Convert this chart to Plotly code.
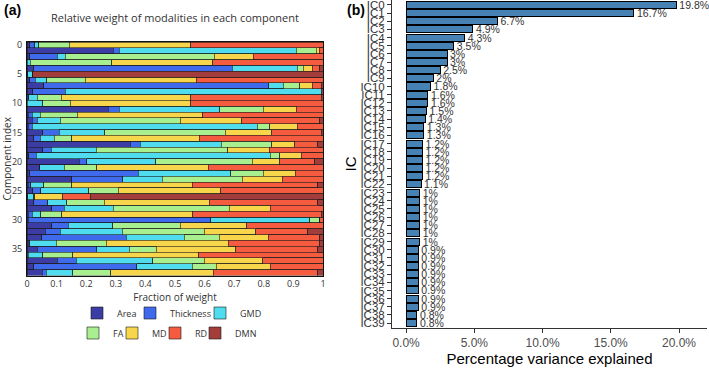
import plotly.graph_objects as go

# ---------------- data: panel (a) ----------------
components = list(range(40))
modalities = ["Area", "Thickness", "GMD", "FA", "MD", "RD", "DMN"]
area = [0.010, 0.292, 0.010, 0.000, 0.022, 0.000, 0.010, 0.056, 0.020, 0.000,
        0.000, 0.275, 0.005, 0.017, 0.005, 0.054, 0.022, 0.348, 0.054, 0.006,
        0.176, 0.043, 0.010, 0.152, 0.005, 0.020, 0.000, 0.022, 0.084, 0.005,
        0.005, 0.084, 0.062, 0.050, 0.004, 0.034, 0.000, 0.103, 0.022, 0.051]
thickness = [0.016, 0.020, 0.093, 0.000, 0.671, 0.003, 0.018, 0.760, 0.110, 0.006,
             0.000, 0.037, 0.012, 0.017, 0.012, 0.055, 0.023, 0.034, 0.028, 0.025,
             0.026, 0.000, 0.366, 0.172, 0.008, 0.027, 0.003, 0.048, 0.042, 0.012,
             0.616, 0.056, 0.050, 0.285, 0.005, 0.202, 0.005, 0.063, 0.349, 0.014]
gmd = [0.013, 0.598, 0.026, 0.011, 0.220, 0.016, 0.039, 0.049, 0.864, 0.028,
       0.054, 0.340, 0.028, 0.078, 0.761, 0.153, 0.047, 0.275, 0.152, 0.791,
       0.233, 0.083, 0.313, 0.133, 0.043, 0.161, 0.019, 0.065, 0.166, 0.030,
       0.334, 0.149, 0.210, 0.196, 0.090, 0.110, 0.049, 0.259, 0.187, 0.089]
fa = [0.104, 0.068, 0.504, 0.276, 0.020, 0.000, 0.130, 0.056, 0.000, 0.082,
      0.092, 0.146, 0.124, 0.405, 0.042, 0.407, 0.060, 0.169, 0.444, 0.032,
      0.326, 0.110, 0.109, 0.271, 0.096, 0.101, 0.005, 0.126, 0.391, 0.071,
      0.034, 0.228, 0.276, 0.118, 0.168, 0.090, 0.101, 0.173, 0.082, 0.129]
md = [0.410, 0.009, 0.131, 0.340, 0.030, 0.000, 0.374, 0.042, 0.000, 0.437,
      0.407, 0.112, 0.424, 0.208, 0.093, 0.157, 0.430, 0.078, 0.140, 0.073,
      0.093, 0.376, 0.109, 0.135, 0.406, 0.345, 0.094, 0.354, 0.139, 0.442,
      0.000, 0.225, 0.175, 0.166, 0.413, 0.270, 0.426, 0.198, 0.182, 0.346]
rd = [0.447, 0.013, 0.236, 0.373, 0.026, 0.000, 0.429, 0.031, 0.000, 0.441,
      0.447, 0.090, 0.407, 0.264, 0.087, 0.168, 0.418, 0.079, 0.182, 0.073,
      0.118, 0.388, 0.093, 0.137, 0.425, 0.346, 0.092, 0.368, 0.178, 0.434,
      0.011, 0.258, 0.176, 0.174, 0.309, 0.277, 0.419, 0.204, 0.178, 0.354]
dmn = [0.000, 0.000, 0.000, 0.000, 0.011, 0.981, 0.000, 0.006, 0.006, 0.006,
       0.000, 0.000, 0.000, 0.011, 0.000, 0.006, 0.000, 0.017, 0.000, 0.000,
       0.028, 0.000, 0.000, 0.000, 0.017, 0.000, 0.787, 0.017, 0.000, 0.006,
       0.000, 0.000, 0.051, 0.011, 0.011, 0.017, 0.000, 0.000, 0.000, 0.017]
weights = [area, thickness, gmd, fa, md, rd, dmn]
y_ticks_a = [0, 5, 10, 15, 20, 25, 30, 35]
x_ticks_a = [0, 0.1, 0.2, 0.3, 0.4, 0.5, 0.6, 0.7, 0.8, 0.9, 1]
x_ticktext_a = ["0", "0.1", "0.2", "0.3", "0.4", "0.5", "0.6", "0.7", "0.8", "0.9", "1"]

# ---------------- data: panel (b) ----------------
ic_labels = ["IC%d" % i for i in range(40)]
variance = [19.8, 16.7, 6.7, 4.9, 4.3, 3.5, 3, 3, 2.5, 2,
            1.8, 1.6, 1.6, 1.5, 1.4, 1.3, 1.3, 1.2, 1.2, 1.2,
            1.2, 1.2, 1.1, 1, 1, 1, 1, 1, 1, 1,
            0.9, 0.9, 0.9, 0.9, 0.9, 0.9, 0.9, 0.9, 0.8, 0.8]
x_ticks_b = [0, 5, 10, 15, 20]
x_ticktext_b = ["0.0%", "5.0%", "10.0%", "15.0%", "20.0%"]

# ---------------- styles ----------------
colors = ["#3C3DA4", "#3F6AEB", "#4EDCEE", "#A8EF90", "#F8D64B", "#F45B3F", "#A23D3B"]
# legend swatch centres (px) for each modality: (x, y)
legend_pos = [(98, 313), (151, 313), (221, 313), (94, 333), (133, 333), (176, 333), (216, 333)]
W, H = 709, 369
FA_FONT = "Open Sans"
FB_FONT = "Liberation Sans, Arial"

legend_names = ["legend"] + ["legend%d" % k for k in range(2, 8)]

fig = go.Figure()
for i, (name, vals) in enumerate(zip(modalities, weights)):
    fig.add_trace(go.Bar(
        y=components, x=vals, orientation="h", name=name,
        marker=dict(color=colors[i], line=dict(color="#1a1a1a", width=0.6)),
        width=1.0, xaxis="x", yaxis="y",
        legend=legend_names[i],
        hoverinfo="x+name",
    ))

fig.add_trace(go.Bar(
    y=ic_labels, x=variance, orientation="h", showlegend=False,
    marker=dict(color="#4682B4", line=dict(color="#000000", width=1)),
    width=0.86, xaxis="x2", yaxis="y2",
    texttemplate="%{x}%", textposition="outside", constraintext="none",
    textfont=dict(family=FB_FONT, size=10.5, color="#333333"),
    cliponaxis=False,
))

def px_x(a, b):
    return [a / W, b / W]

def px_y(top, bottom):
    return [1 - bottom / H, 1 - top / H]

layout_legends = {}
for i, ln in enumerate(legend_names):
    cx, cy = legend_pos[i]
    layout_legends[ln] = dict(
        orientation="h", x=(cx - 21) / W, xanchor="left", y=1 - cy / H, yanchor="middle",
        font=dict(family=FA_FONT, size=9, color="#333"), itemwidth=30,
        bgcolor="rgba(0,0,0,0)", borderwidth=0, itemclick=False, itemdoubleclick=False,
    )

fig.update_layout(
    width=W, height=H, margin=dict(l=0, r=0, t=0, b=0),
    paper_bgcolor="white", plot_bgcolor="white",
    barmode="stack",
    xaxis=dict(domain=px_x(27, 323), anchor="y", automargin=False, range=[0, 1],
               tickvals=x_ticks_a, ticktext=x_ticktext_a,
               showline=True, mirror=True, linecolor="#111", linewidth=1, showgrid=False,
               zeroline=False, ticks="", tickfont=dict(family=FA_FONT, size=9, color="#333"),
               title=dict(text="Fraction of weight", font=dict(family=FA_FONT, size=10, color="#333"),
                          standoff=4)),
    yaxis=dict(domain=px_y(42, 275.5), anchor="x", automargin=False, range=[39.5, -0.5],
               tickvals=y_ticks_a,
               showline=True, mirror=True, linecolor="#111", linewidth=1, showgrid=False,
               zeroline=False, ticks="", ticklabelstandoff=2,
               tickfont=dict(family=FA_FONT, size=9, color="#333"),
               title=dict(text="Component index", font=dict(family=FA_FONT, size=10, color="#333"),
                          standoff=4)),
    xaxis2=dict(domain=px_x(392, 707), anchor="y2", automargin=False, range=[-1.03, 22.05],
                tickvals=x_ticks_b, ticktext=x_ticktext_b,
                showline=True, linecolor="#333", linewidth=1, showgrid=False, zeroline=False,
                ticks="outside", ticklen=4, tickcolor="#333",
                tickfont=dict(family=FB_FONT, size=12, color="#4d4d4d"),
                title=dict(text="Percentage variance explained",
                           font=dict(family=FB_FONT, size=15, color="#000"), standoff=4)),
    yaxis2=dict(domain=px_y(0, 328), anchor="x2", automargin=False, type="category",
                categoryorder="array", categoryarray=ic_labels,
                tickmode="array", tickvals=ic_labels, ticktext=ic_labels,
                range=[39.6, -0.6], showline=True, linecolor="#333", linewidth=1, showgrid=False,
                zeroline=False, ticks="outside", ticklen=4, tickcolor="#333",
                tickfont=dict(family=FB_FONT, size=11.5, color="#333"),
                title=dict(text="IC", font=dict(family=FB_FONT, size=15, color="#000"), standoff=0)),
    annotations=[
        dict(text="<b>(a)</b>", x=2 / W, y=1 - 10 / H, xref="paper", yref="paper",
             xanchor="left", yanchor="middle", showarrow=False,
             font=dict(family=FB_FONT, size=14, color="#000")),
        dict(text="<b>(b)</b>", x=345 / W, y=1 - 10 / H, xref="paper", yref="paper",
             xanchor="left", yanchor="middle", showarrow=False,
             font=dict(family=FB_FONT, size=14, color="#000")),
        dict(text="Relative weight of modalities in each component", x=175 / W, y=1 - 17 / H,
             xref="paper", yref="paper", xanchor="center", yanchor="middle", showarrow=False,
             font=dict(family=FA_FONT, size=11, color="#333")),
    ],
    **layout_legends,
)

fig.write_html("out.html", config={"displayModeBar": False},
               post_script="document.body.style.margin='0';")
